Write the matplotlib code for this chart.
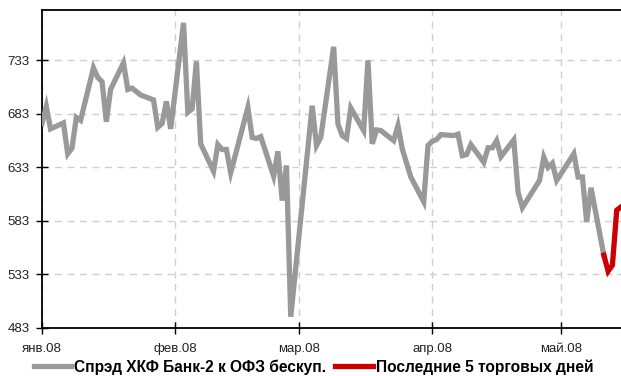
import matplotlib
matplotlib.use("Agg")
import matplotlib.pyplot as plt
from matplotlib import font_manager
import pandas as pd

# ---- data ----
spread_dates = [
    "2008-01-01", "2008-01-02", "2008-01-03", "2008-01-06", "2008-01-07", "2008-01-08",
    "2008-01-09", "2008-01-10", "2008-01-13", "2008-01-14", "2008-01-15", "2008-01-16",
    "2008-01-17", "2008-01-20", "2008-01-21", "2008-01-22", "2008-01-24", "2008-01-27",
    "2008-01-28", "2008-01-29", "2008-01-30", "2008-01-31", "2008-02-03", "2008-02-04",
    "2008-02-05", "2008-02-06", "2008-02-07", "2008-02-10", "2008-02-11", "2008-02-12",
    "2008-02-13", "2008-02-14", "2008-02-18", "2008-02-19", "2008-02-20", "2008-02-21",
    "2008-02-24", "2008-02-25", "2008-02-26", "2008-02-27", "2008-02-28", "2008-03-04",
    "2008-03-05", "2008-03-06", "2008-03-09", "2008-03-10", "2008-03-11", "2008-03-12",
    "2008-03-13", "2008-03-16", "2008-03-17", "2008-03-18", "2008-03-19", "2008-03-20",
    "2008-03-23", "2008-03-24", "2008-03-25", "2008-03-27", "2008-03-30", "2008-03-31",
    "2008-04-01", "2008-04-02", "2008-04-03", "2008-04-04", "2008-04-06", "2008-04-07",
    "2008-04-08", "2008-04-09", "2008-04-10", "2008-04-13", "2008-04-14", "2008-04-15",
    "2008-04-16", "2008-04-17", "2008-04-20", "2008-04-21", "2008-04-22", "2008-04-26",
    "2008-04-27", "2008-04-28", "2008-04-29", "2008-04-30", "2008-05-04", "2008-05-05",
    "2008-05-06", "2008-05-07", "2008-05-08", "2008-05-11",
]
spread_values = [
    674, 690, 669, 674.5, 645.7, 651,
    679.7, 677, 726, 717, 713, 675.7,
    706, 730.7, 705.8, 707, 700.6, 696,
    670.5, 674, 694.6, 669, 768, 684.4,
    687.6, 732, 655, 629.5, 654.3, 649.7,
    649.7, 628, 689, 661, 660, 661.8,
    624.8, 648, 602, 634.8, 493.5, 690.6,
    653.4, 661, 745.6, 673.6, 662.7, 660,
    688.5, 667.4, 733, 655, 668, 667.4,
    658, 672, 650.3, 624, 601, 653.4,
    657.4, 659, 663.6, 663.3, 662.7, 664,
    644, 645, 654.3, 637.8, 651.3, 651.3,
    658, 643, 658.7, 610, 595.4, 620.8,
    642.6, 633, 636.9, 620.8, 645.7, 624,
    624, 582, 614, 551,
]
last5_dates = ["2008-05-11", "2008-05-12", "2008-05-13", "2008-05-14", "2008-05-15"]
last5_values = [551, 536, 541.7, 593, 596]

y_ticks = [483, 533, 583, 633, 683, 733]
x_tick_dates = ["2008-01-01", "2008-02-01", "2008-03-01", "2008-04-01", "2008-05-01"]
x_tick_labels = ["янв.08", "фев.08", "мар.08", "апр.08", "май.08"]
series_labels = ["Спрэд ХКФ Банк-2 к ОФЗ бескуп.", "Последние 5 торговых дней"]

# ---- fonts ----
available = {f.name for f in font_manager.fontManager.ttflist}
narrow = "Liberation Sans Narrow" if "Liberation Sans Narrow" in available else "Liberation Sans"
plt.rcParams["font.family"] = [narrow, "DejaVu Sans"]

fig = plt.figure(figsize=(6.21, 3.76), dpi=100)
ax = fig.add_axes([42 / 621, 48 / 376, 1 - 42 / 621, (328 - 10) / 376])

d1 = pd.to_datetime(spread_dates)
d2 = pd.to_datetime(last5_dates)
ax.plot(d1, spread_values, color="#999999", lw=3.8, solid_joinstyle="miter",
        label=series_labels[0], zorder=3)
ax.plot(d2, last5_values, color="#cc0000", lw=3.8, solid_joinstyle="miter",
        label=series_labels[1], zorder=4)

ax.set_ylim(483, 780)
ax.set_xlim(pd.Timestamp("2008-01-01"), pd.Timestamp("2008-05-15"))
ax.set_yticks(y_ticks)
ax.set_yticklabels([str(v) for v in y_ticks])
ax.set_xticks(pd.to_datetime(x_tick_dates))
ax.set_xticklabels(x_tick_labels)

ax.grid(True, color="#cfcfcf", linestyle=(0, (5, 4)), linewidth=1.0)
ax.set_axisbelow(True)
for s in ["left", "bottom", "top"]:
    ax.spines[s].set_color("black")
    ax.spines[s].set_linewidth(1.3)
ax.spines["right"].set_visible(False)
ax.tick_params(axis="both", direction="inout", length=8, width=1.0, colors="black",
               labelsize=9.5, labelcolor="#222222")
ax.tick_params(axis="x", pad=7)
ax.tick_params(axis="y", pad=5)

leg = fig.legend(loc="center", bbox_to_anchor=(0.505, 9 / 376), ncol=2, frameon=False,
                 prop={"weight": "bold", "size": 11.2}, handlelength=2.4,
                 handletextpad=0.2, columnspacing=0.6, borderaxespad=0)

fig.savefig("out.png", dpi=100)
